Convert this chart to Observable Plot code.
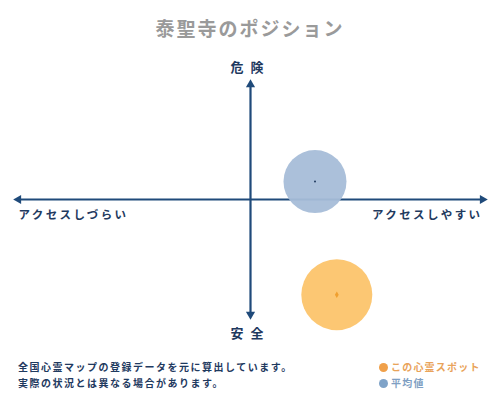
<!DOCTYPE html>
<html>
<head>
<meta charset="utf-8">
<script src="https://cdn.jsdelivr.net/npm/d3@7"></script>
<script src="https://cdn.jsdelivr.net/npm/@observablehq/plot@0.6"></script>
<style>
  html, body { margin: 0; padding: 0; background: #fff; }
  #wrap { position: relative; width: 500px; height: 400px; font-family: "Noto Sans CJK JP", sans-serif; overflow: hidden; }
  #title { position: absolute; left: 0; top: 14px; width: 500px; text-align: center; font-size: 19px; font-weight: 700; color: #9a9a9a; letter-spacing: 2px; line-height: 28px; }
  #chart { position: absolute; left: 0; top: 50px; }
  #note { position: absolute; left: 18px; top: 359px; font-size: 10px; font-weight: 700; color: #1f3a5f; line-height: 16px; letter-spacing: 1.5px; }
  #legend { position: absolute; left: 379px; top: 359px; font-size: 10px; font-weight: 700; line-height: 16px; letter-spacing: 1.2px; }
  .lg { display: flex; align-items: center; }
  .sw { width: 9px; height: 9px; border-radius: 50%; margin-right: 3px; }
</style>
</head>
<body>
<div id="wrap">
  <div id="title"></div>
  <div id="chart"></div>
  <div id="note"></div>
  <div id="legend"></div>
</div>
<script>
const title = "泰聖寺のポジション";
const noteLines = ["全国心霊マップの登録データを元に算出しています。", "実際の状況とは異なる場合があります。"];
const seriesNames = ["この心霊スポット", "平均値"];
const seriesColors = ["#fcc46b", "#a7bdd8"];
const legendDotColors = ["#f0a04a", "#7fa3c8"];
const legendTextColors = ["#e9a35a", "#7f9fc3"];
const centerColors = ["#f0a030", "#1f3a5f"];
// positions on the access (x) / danger (y) plane
const seriesX = [1.86, 1.39];
const seriesY = [-4.14, 0.78];
const axisTop = "危険", axisBottom = "安全", axisLeft = "アクセスしづらい", axisRight = "アクセスしやすい";

document.getElementById("title").textContent = title;
document.getElementById("note").innerHTML = noteLines.map(s => `<div>${s}</div>`).join("");
document.getElementById("legend").innerHTML = seriesNames.map((s, i) =>
  `<div class="lg"><span class="sw" style="background:${legendDotColors[i]}"></span><span style="color:${legendTextColors[i]}">${s}</span></div>`).join("");

const pts = seriesNames.map((name, i) => ({name, x: seriesX[i], y: seriesY[i], fill: seriesColors[i], c: centerColors[i]}));
const axisColor = "#1f4a7a";
const hLine = [{x1: -5, y1: 0, x2: 5, y2: 0}];
const vLine = [{x1: 0, y1: -5, x2: 0, y2: 5}];
const heads = [
  {x: 5, y: 0, rot: 90}, {x: -5, y: 0, rot: -90},
  {x: 0, y: 5, rot: 0}, {x: 0, y: -5, rot: 180}
];

const chart = Plot.plot({
  width: 500, height: 300,
  marginLeft: 18, marginRight: 18, marginTop: 34, marginBottom: 36,
  x: {domain: [-5, 5], axis: null},
  y: {domain: [-5, 5], axis: null},
  style: {fontFamily: "'Noto Sans CJK JP', sans-serif", background: "#fff"},
  marks: [
    Plot.link(hLine, {x1: "x1", y1: "y1", x2: "x2", y2: "y2", stroke: axisColor, strokeWidth: 2.2}),
    Plot.link(vLine, {x1: "x1", y1: "y1", x2: "x2", y2: "y2", stroke: axisColor, strokeWidth: 2.2}),
    Plot.dot(heads, {x: "x", y: "y", rotate: "rot", symbol: "triangle", fill: axisColor, r: 3.4}),
    Plot.dot([pts[1]], {x: "x", y: "y", r: 31.5, fill: "fill", fillOpacity: 0.95}),
    Plot.dot([pts[0]], {x: "x", y: "y", r: 35.5, fill: "fill", fillOpacity: 0.95}),
    Plot.dot([pts[1]], {x: "x", y: "y", r: 1, fill: "c"}),
    Plot.dot([pts[0]], {x: "x", y: "y", r: 2, fill: "c", symbol: "diamond"}),
    Plot.text([axisTop], {x: 0, y: 5, text: d => d, dy: -17, fill: "#1f3a5f", fontSize: 13, fontWeight: 700}),
    Plot.text([axisBottom], {x: 0, y: -5, text: d => d, dy: 19, fill: "#1f3a5f", fontSize: 13, fontWeight: 700}),
    Plot.text([axisLeft], {x: -5, y: 0, text: d => d, dy: 16, dx: 0, textAnchor: "start", fill: "#1f3a5f", fontSize: 11.5, fontWeight: 700}),
    Plot.text([axisRight], {x: 5, y: 0, text: d => d, dy: 16, dx: 0, textAnchor: "end", fill: "#1f3a5f", fontSize: 11.5, fontWeight: 700})
  ]
});
d3.select(chart).selectAll("text").each(function() {
  const t = this.textContent;
  if (t === axisTop || t === axisBottom) this.setAttribute("letter-spacing", "7");
  else this.setAttribute("letter-spacing", "2.4");
});
document.getElementById("chart").append(chart);
</script>
</body>
</html>
